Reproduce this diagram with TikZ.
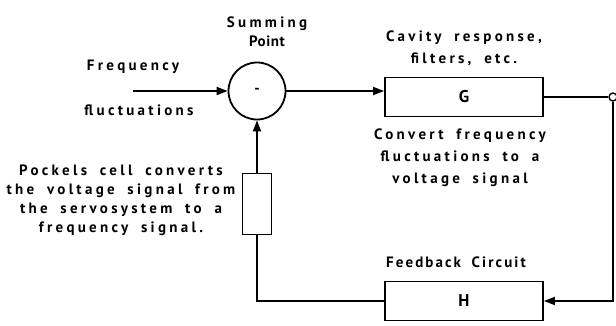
\documentclass[tikz,border=0pt]{standalone}
\usepackage{fontspec}
\setmainfont[LetterSpace=22,WordSpace=1.8]{PT Sans}
\newfontfamily\plainfont[LetterSpace=4]{PT Sans}
\newfontfamily\midfont[LetterSpace=14,WordSpace=1.8]{PT Sans}
\usetikzlibrary{positioning,arrows.meta}

\begin{document}
\begin{tikzpicture}[x=1pt, y=-1pt, line width=1.8pt,
  font=\fontsize{15}{22}\selectfont\bfseries,
  block/.style={draw, minimum width=158pt, minimum height=39pt, inner sep=0pt,
                font=\fontsize{17}{20}\selectfont\bfseries},
  note/.style={align=center, inner sep=0pt},
  sig/.style={-{Triangle[length=11pt,width=8pt]}}]
\useasboundingbox (0,0) rectangle (616,325);

% blocks
\node[circle, draw, minimum size=57pt, inner sep=0pt] (sum) at (257,91) {-};
\node[block] (G) at (464,97) {G};
\node[block] (H) at (464,301) {H};
\node[draw, minimum width=29pt, minimum height=61pt, inner sep=0pt] (pockels) at (257,204) {};
\node[circle, draw, fill=white, line width=1.4pt, minimum size=8pt, inner sep=0pt] (tap) at (613,97) {};
\coordinate (in) at (133,91);

% labels
\node[note] (sumlbl) at (267,32) {Summing\\[-3pt]{\plainfont\bfseries Point}};
\node[note] (freq) at (133,67) {Frequency};
\node[note] (fluct) at (139,110) {fluctuations};
\node[note, above=10pt of G] (cav) {Cavity response,\\filters, etc.};
\node[note, below=10pt of G, xshift=-4pt] (conv) {Convert frequency\\fluctuations to a\\voltage signal};
\node[note, above=12pt of H, xshift=-8pt, font=\fontsize{15}{22}\selectfont\midfont\bfseries] (fb) {Feedback Circuit};
\node[note, font=\fontsize{15}{19}\selectfont\bfseries] (pcl) at (121,200)
  {Pockels cell converts\\the voltage signal from\\the servosystem to a\\frequency signal.};

% connectors
\draw[sig] (in) -- (sum.west);
\draw[sig] (sum.east) -- (sum.east -| G.west);
\draw (G.east) -- (tap.west);
\draw[sig] (tap.south) |- (H.east);
\draw (H.west) -| (pockels.south);
\draw[sig] (pockels.north) -- (sum.south);
\end{tikzpicture}
\end{document}
